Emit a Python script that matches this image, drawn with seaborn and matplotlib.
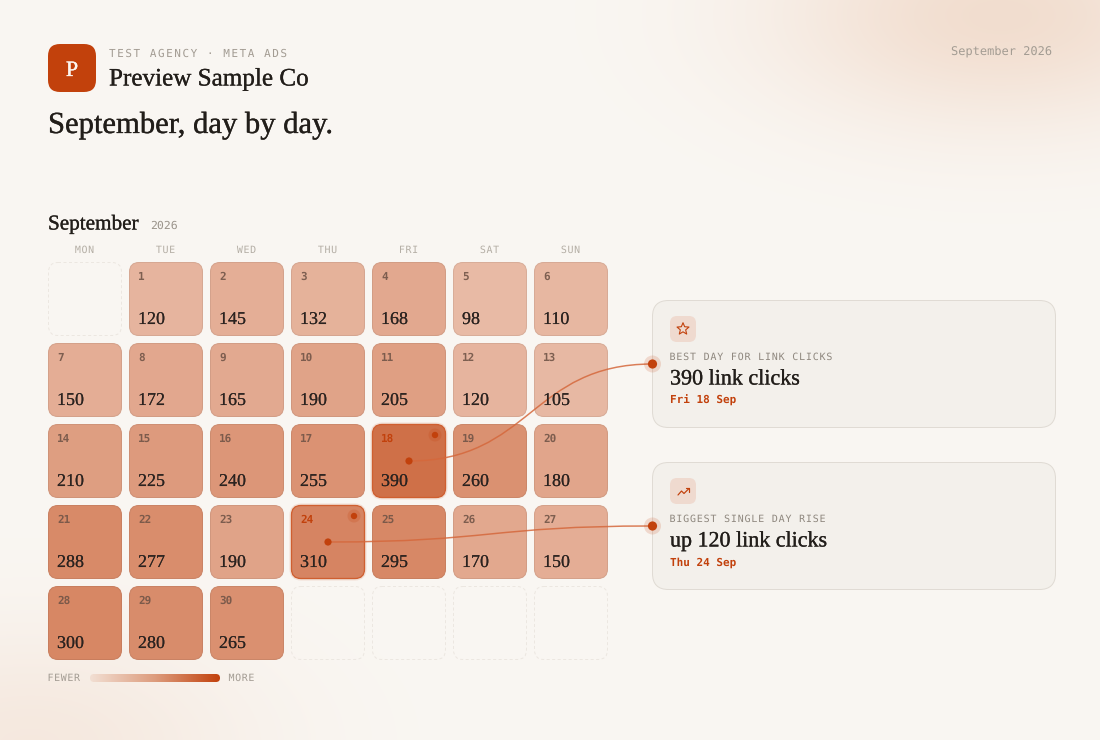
import numpy as np
import pandas as pd
import matplotlib
matplotlib.use("Agg")
import matplotlib.pyplot as plt
import matplotlib.patheffects as pe
import seaborn as sns
from matplotlib.colors import LinearSegmentedColormap, to_rgb
from matplotlib.patches import FancyBboxPatch, Circle, PathPatch, Polygon
from matplotlib.path import Path
from matplotlib.text import Text
from matplotlib.textpath import TextPath
from matplotlib.font_manager import FontProperties
from matplotlib.transforms import IdentityTransform, Bbox

# ---------- data ----------
weekdays = ["MON", "TUE", "WED", "THU", "FRI", "SAT", "SUN"]
link_clicks = [120, 145, 132, 168, 98, 110,
               150, 172, 165, 190, 205, 120, 105,
               210, 225, 240, 255, 390, 260, 180,
               288, 277, 190, 310, 295, 170, 150,
               300, 280, 265]
first_weekday = 1
highlight_days = [18, 24]
card_targets = [364, 526]
card_tops = [300.5, 462.5]
card_labels = ["BEST DAY FOR LINK CLICKS", "BIGGEST SINGLE DAY RISE"]
card_values = ["390 link clicks", "up 120 link clicks"]
card_widths = [128, 156]
card_dates = ["Fri 18 Sep", "Thu 24 Sep"]

# ---------- colours ----------
INK = "#221e1a"
ACCENT = "#c2410c"
BG = "#faf7f3"

sns.set_theme(style="white")
plt.rcParams["font.family"] = ["Liberation Serif", "DejaVu Serif"]
plt.rcParams["figure.dpi"] = 100
plt.rcParams["text.hinting"] = "no_hinting"
PX = 72 / 100  # points per pixel

fig = plt.figure(figsize=(11, 7.4), dpi=100, facecolor=BG)

# ---------- soft background ----------
bg = fig.add_axes([0, 0, 1, 1], zorder=0)
yy, xx = np.mgrid[0:740, 0:1100]
base = np.array(to_rgb(BG))
glow = np.array(to_rgb("#efd5c3"))
g1 = 0.75 * np.exp(-(((xx - 1000) / 225) ** 2 + ((yy - 15) / 110) ** 2))
g2 = 0.42 * np.exp(-(((xx - 30) / 225) ** 2 + ((yy - 745) / 120) ** 2))
t = np.clip(g1 + g2, 0, 1)[..., None]
bg.imshow(base * (1 - t) + glow * t, extent=(0, 1100, 740, 0), aspect="auto")
bg.axis("off")

# ---------- calendar heatmap ----------
UNIT, CELL = 81, 74
cal = fig.add_axes([48 / 1100, (740 - 667) / 740, 567 / 1100, 405 / 740], zorder=1)
cal.patch.set_alpha(0)
slots = [np.nan] * first_weekday + list(link_clicks)
slots += [np.nan] * (35 - len(slots))
matrix = pd.DataFrame(np.array(slots).reshape(5, 7), columns=weekdays)
cmap = LinearSegmentedColormap.from_list("clicks", ["#e8baa5", "#cf7048"])
sns.heatmap(matrix, ax=cal, cmap=cmap, vmin=min(link_clicks), vmax=max(link_clicks),
            cbar=False, xticklabels=False, yticklabels=False, square=False)
mesh = cal.collections[0]
mesh.set_visible(False)
cal.set_xlabel("")
cal.set_ylabel("")
cal.axis("off")
inset = 0.5 / UNIT
side = (CELL - 1) / UNIT
round_style = f"round,pad=0,rounding_size={9.5 / UNIT}"

for r in range(5):
    for c in range(7):
        v = matrix.iloc[r, c]
        if np.isnan(v):
            cal.add_patch(FancyBboxPatch((c + inset, r + inset), side, side, boxstyle=round_style,
                                         fc="none", ec="#ece7e1", lw=1 * PX,
                                         ls=(0, (3, 2.5)), clip_on=False))
            continue
        day = r * 7 + c - first_weekday + 1
        face = np.array(mesh.cmap(mesh.norm(v))[:3])
        if day in highlight_days:
            cal.add_patch(FancyBboxPatch((c + inset, r + inset), side, side, boxstyle=round_style, fc="none",
                                         ec=ACCENT, alpha=0.13, lw=4 * PX, clip_on=False))
            cal.add_patch(FancyBboxPatch((c + inset, r + inset), side, side, boxstyle=round_style, fc=face,
                                         ec="#cf5f30", lw=1.3 * PX, clip_on=False))
        else:
            cal.add_patch(FancyBboxPatch((c + inset, r + inset), side, side, boxstyle=round_style, fc=face,
                                         ec=face * 0.93, lw=1 * PX, clip_on=False))


# ---------- overlay in pixel space ----------
ov = fig.add_axes([0, 0, 1, 1], zorder=2)
ov.set_xlim(0, 1100)
ov.set_ylim(740, 0)
ov.axis("off")
ov.patch.set_alpha(0)


class NoSnap(pe.AbstractPathEffect):
    """Draw glyph outlines at their exact sub-pixel position."""

    def draw_path(self, renderer, gc, tpath, affine, rgbFace=None):
        gc0 = renderer.new_gc()
        gc0.copy_properties(gc)
        gc0.set_snap(False)
        renderer.draw_path(gc0, tpath, affine, rgbFace)
        gc0.restore()


class Tracked(Text):
    """A text with CSS-like letter spacing, for the monospaced captions."""

    def __init__(self, x, y, s, track=0.0, **kw):
        super().__init__(x, y, s, **kw)
        self.track = track

    def _layout_px(self):
        adv = 0.602 * self.get_fontsize() / PX + self.track
        n = len(self.get_text())
        w = adv * n - self.track
        px, py = self.get_transform().transform(self.get_position())
        x0 = {"left": px, "center": px - w / 2, "right": px - w}[self.get_ha()]
        return adv, w, x0, py

    def get_window_extent(self, renderer=None, dpi=None):
        adv, w, x0, py = self._layout_px()
        h = self.get_fontsize() / PX
        return Bbox([[x0, py - 0.2 * h], [x0 + w, py + 0.8 * h]])

    def draw(self, renderer):
        adv, w, x0, py = self._layout_px()
        for i, ch in enumerate(self.get_text()):
            if ch == " ":
                continue
            t = Text(x0 + i * adv, py, ch, fontproperties=self.get_fontproperties(),
                     color=self.get_color(), alpha=self.get_alpha(), ha="left",
                     va="baseline", transform=IdentityTransform(), path_effects=[NoSnap()])
            t.set_figure(self.get_figure())
            t.draw(renderer)


def mono(x, y, s, px, color, track=0.0, ha="left", weight="normal", alpha=None):
    kw = dict(family="DejaVu Sans Mono", fontsize=px * PX, color=color, ha=ha,
              va="baseline", weight=weight, alpha=alpha)
    if track:
        ov.add_artist(Tracked(x, y, s, track=track, transform=ov.transData, **kw))
    else:
        ov.text(x, y, s, **kw)


SERIF = FontProperties(family="Liberation Serif")


def serif(x, y, s, width=None, px=None, color=INK, ha="left", stroke=0.0):
    if width is not None:
        px = width / TextPath((0, 0), s, size=1, prop=SERIF).get_extents().width
    txt = ov.text(x, y, s, family="Liberation Serif", fontsize=px * PX, color=color,
                  ha=ha, va="baseline")
    if stroke:
        txt.set_path_effects([pe.withStroke(linewidth=stroke * PX, foreground=color)])
    return px


def box(x, y, w, h, rad, **kw):
    ov.add_patch(FancyBboxPatch((x, y), w, h, boxstyle=f"round,pad=0,rounding_size={rad}", **kw))


def dot(x, y, r, halo=None, halo_alpha=0.18):
    if halo:
        ov.add_patch(Circle((x, y), halo, fc=ACCENT, ec="none", alpha=halo_alpha))
    ov.add_patch(Circle((x, y), r, fc=ACCENT, ec="none"))


# header
box(48, 44, 48, 48, 12, fc=ACCENT, ec="none")
serif(72, 76, "P", px=22, color="#fdf6f0", ha="center", stroke=0.3)
mono(109, 57, "TEST AGENCY · META ADS", 11, "#a39c93", track=1.54)
serif(109, 85.5, "Preview Sample Co", width=198, stroke=0.25)
serif(48, 133, "September, day by day.", width=281, stroke=0.3)
mono(1052, 54.5, "September 2026", 12, "#a39c93", ha="right")

# month heading
serif(48, 229.5, "September", width=89, stroke=0.25)
mono(150, 229, "2026", 11.5, "#9b948b")

# weekdays
X0, Y0 = 48, 262
for i, name in enumerate(weekdays):
    mono(X0 + UNIT * i + CELL / 2 - 0.5, 253, name, 10, "#b5afa6", track=0.6, ha="center")

# numbers in cells
for day, val in enumerate(link_clicks, start=1):
    idx = day - 1 + first_weekday
    r, c = divmod(idx, 7)
    x, y = X0 + UNIT * c, Y0 + UNIT * r
    hot = day in highlight_days
    mono(x + 9, y + 18, str(day), 11, ACCENT if hot else "#6f5346", weight="bold",
         alpha=None if hot else 0.88)
    serif(x + 9, y + 62, str(val), px=18, color="#2b2320", stroke=0.1)

# connectors
for day, ty in zip(highlight_days, card_targets):
    idx = day - 1 + first_weekday
    r, c = divmod(idx, 7)
    x, y = X0 + UNIT * c, Y0 + UNIT * r
    sx, sy = x + CELL / 2, y + CELL / 2
    mx = (sx + 652.5) / 2
    ov.add_patch(PathPatch(Path([(sx, sy), (mx, sy), (mx, ty), (652.5, ty)],
                                [Path.MOVETO, Path.CURVE4, Path.CURVE4, Path.CURVE4]),
                           fc="none", ec="#d5683c", lw=1.5 * PX, alpha=0.85))
    dot(sx, sy, 3.6)
    dot(x + 63, y + 11, 3.2, halo=6.5, halo_alpha=0.2)

# cards
for i, top in enumerate(card_tops):
    box(652.5, top, 403, 127, 16, fc="#f3f0eb", ec="#e0dbd4", lw=1 * PX)
    box(670, top + 15.5, 26, 26, 7, fc="#efdacf", ec="none")
    mono(669.5, top + 59.5, card_labels[i], 10, "#8f887f", track=0.8)
    serif(670, top + 84, card_values[i], width=card_widths[i], stroke=0.25)
    mono(670, top + 103.5, card_dates[i], 11, ACCENT, weight="bold")
    dot(652.5, card_targets[i], 4.6, halo=8.5, halo_alpha=0.16)

# star icon
cx, cy = 683, 300.5 + 28.5
ang = np.deg2rad(-90 + 36 * np.arange(10))
rad = np.where(np.arange(10) % 2 == 0, 6.3, 2.8)
ov.add_patch(Polygon(np.c_[cx + rad * np.cos(ang), cy + rad * np.sin(ang)], closed=True,
                     fc="none", ec=ACCENT, lw=1.1 * PX, joinstyle="round"))
# trend icon
ov.plot([678, 681.5, 684, 689], [495, 491, 493.5, 488.5], color=ACCENT, lw=1.2 * PX,
        solid_joinstyle="round", solid_capstyle="round")
ov.plot([685.5, 689, 689], [488, 488, 491.5], color=ACCENT, lw=1.2 * PX,
        solid_joinstyle="round", solid_capstyle="round")

# legend
mono(47.5, 681, "FEWER", 10, "#a39c93", track=0.6)
mono(228.5, 681, "MORE", 10, "#a39c93", track=0.6)
legend_cmap = LinearSegmentedColormap.from_list("legend", ["#f2dfd3", "#dd9c7d", ACCENT])
im = ov.imshow(np.linspace(0, 1, 256)[None, :], cmap=legend_cmap, extent=(90, 220, 682, 674),
               aspect="auto", zorder=3)
clip = FancyBboxPatch((90, 674), 130, 8, boxstyle="round,pad=0,rounding_size=4",
                      fc="none", ec="none", transform=ov.transData)
ov.add_patch(clip)
im.set_clip_path(clip)
ov.set_xlim(0, 1100)
ov.set_ylim(740, 0)

fig.savefig("out.png", dpi=100, facecolor=BG)
